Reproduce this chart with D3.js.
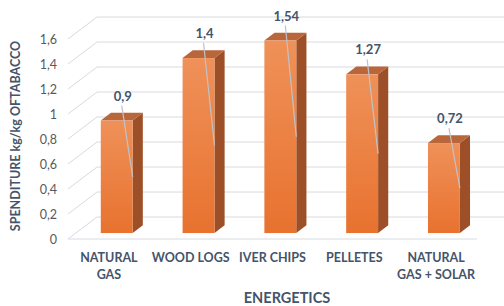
<!DOCTYPE html>
<html>
<head>
<meta charset="utf-8">
<script src="https://cdn.jsdelivr.net/npm/d3@7"></script>
<style>
  body { margin: 0; background: #fff; }
  text { font-family: Lato, "Open Sans", sans-serif; }
</style>
</head>
<body>
<div id="chart"></div>
<script>
var categories = [["NATURAL", "GAS"], ["WOOD LOGS"], ["IVER CHIPS"], ["PELLETES"], ["NATURAL", "GAS + SOLAR"]]
var values = [0.9, 1.4, 1.54, 1.27, 0.72]
var valueLabels = ["0,9", "1,4", "1,54", "1,27", "0,72"]
var ticks = [0, 0.2, 0.4, 0.6, 0.8, 1, 1.2, 1.4, 1.6]
var tickLabels = ["0", "0,2", "0,4", "0,6", "0,8", "1", "1,2", "1,4", "1,6"]

var W = 504, H = 306
var depthX = 29, depthY = -22   // full floor depth
var barD0 = 0.27, barD1 = 0.62  // bar front / back as fraction of depth

var svg = d3.select("#chart").append("svg")
    .attr("width", W).attr("height", H)

var defs = svg.append("defs")
var grad = defs.append("linearGradient").attr("id", "front")
    .attr("x1", 0).attr("y1", 0).attr("x2", 0).attr("y2", 1)
grad.append("stop").attr("offset", "0%").attr("stop-color", "#ef9159")
grad.append("stop").attr("offset", "100%").attr("stop-color", "#e8722f")

var x = d3.scaleBand()
    .domain(d3.range(values.length))
    .range([68, 477])
    .paddingInner(0.61)
    .paddingOuter(0.305)

var y = d3.scaleLinear().domain([0, 1.6]).range([239, 39])

// walls and gridlines
var grid = svg.append("g").attr("stroke", "#d6dae2").attr("stroke-width", 1).attr("fill", "none")
grid.selectAll("line.back").data(ticks).enter().append("line")
    .attr("x1", 68 + depthX).attr("x2", W)
    .attr("y1", d => y(d) + depthY).attr("y2", d => y(d) + depthY)
grid.selectAll("line.side").data(ticks).enter().append("line")
    .attr("x1", 68).attr("x2", 68 + depthX)
    .attr("y1", d => y(d)).attr("y2", d => y(d) + depthY)
grid.append("line")
    .attr("x1", 68).attr("x2", 477)
    .attr("y1", y(0)).attr("y2", y(0))

// y tick labels
svg.append("g").selectAll("text").data(ticks).enter().append("text")
    .attr("x", 57).attr("y", d => y(d) + 4.5)
    .attr("text-anchor", "end")
    .attr("font-size", 12.5)
    .attr("fill", "#595959")
    .text((d, i) => tickLabels[i])

// bars
var bars = svg.append("g").selectAll("g").data(values).enter().append("g")
bars.each(function(v, i) {
  var g = d3.select(this)
  var bw = x.bandwidth()
  var fx0 = x(i) + barD0 * depthX, fx1 = fx0 + bw
  var fyB = y(0) + barD0 * depthY, fyT = y(v) + barD0 * depthY
  var dx = (barD1 - barD0) * depthX, dy = (barD1 - barD0) * depthY
  g.append("path")
      .attr("d", `M${fx1},${fyT}L${fx1 + dx},${fyT + dy}L${fx1 + dx},${fyB + dy}L${fx1},${fyB}Z`)
      .attr("fill", "#9d5027")
  g.append("path")
      .attr("d", `M${fx0},${fyT}L${fx0 + dx},${fyT + dy}L${fx1 + dx},${fyT + dy}L${fx1},${fyT}Z`)
      .attr("fill", "#b9663b")
  g.append("rect")
      .attr("x", fx0).attr("y", fyT).attr("width", bw).attr("height", fyB - fyT)
      .attr("fill", "url(#front)")

  // value label + leader line
  var lx = fx0 + bw / 2 + 6, ly = fyT - 20
  g.append("line")
      .attr("x1", lx - 1).attr("y1", ly + 5)
      .attr("x2", fx1).attr("y2", (fyT + fyB) / 2)
      .attr("stroke", "#bfc3c9").attr("stroke-width", 1.2)
  g.append("text")
      .attr("x", lx).attr("y", ly)
      .attr("text-anchor", "middle")
      .attr("font-size", 13).attr("font-weight", "bold")
      .attr("fill", "#44546a")
      .text(valueLabels[i])
})

// category labels
svg.append("g").selectAll("text").data(categories).enter().append("text")
    .attr("text-anchor", "middle")
    .attr("font-size", 12.5).attr("font-weight", "bold")
    .attr("fill", "#44546a")
    .each(function(lines, i) {
      var t = d3.select(this)
      lines.forEach((s, k) => {
        t.append("tspan")
          .attr("x", x(i) + x.bandwidth() / 2)
          .attr("y", 262 + k * 17)
          .text(s)
      })
    })

// axis titles
svg.append("text")
    .attr("x", 287).attr("y", 303)
    .attr("text-anchor", "middle")
    .attr("font-size", 14.5).attr("font-weight", "bold")
    .attr("fill", "#44546a")
    .text("ENERGETICS")

svg.append("text")
    .attr("transform", "translate(20,136) rotate(-90)")
    .attr("text-anchor", "middle")
    .attr("font-size", 12.5).attr("font-weight", "bold")
    .attr("fill", "#44546a")
    .text("SPENDITURE kg/kg OFTABACCO")
</script>
</body>
</html>
